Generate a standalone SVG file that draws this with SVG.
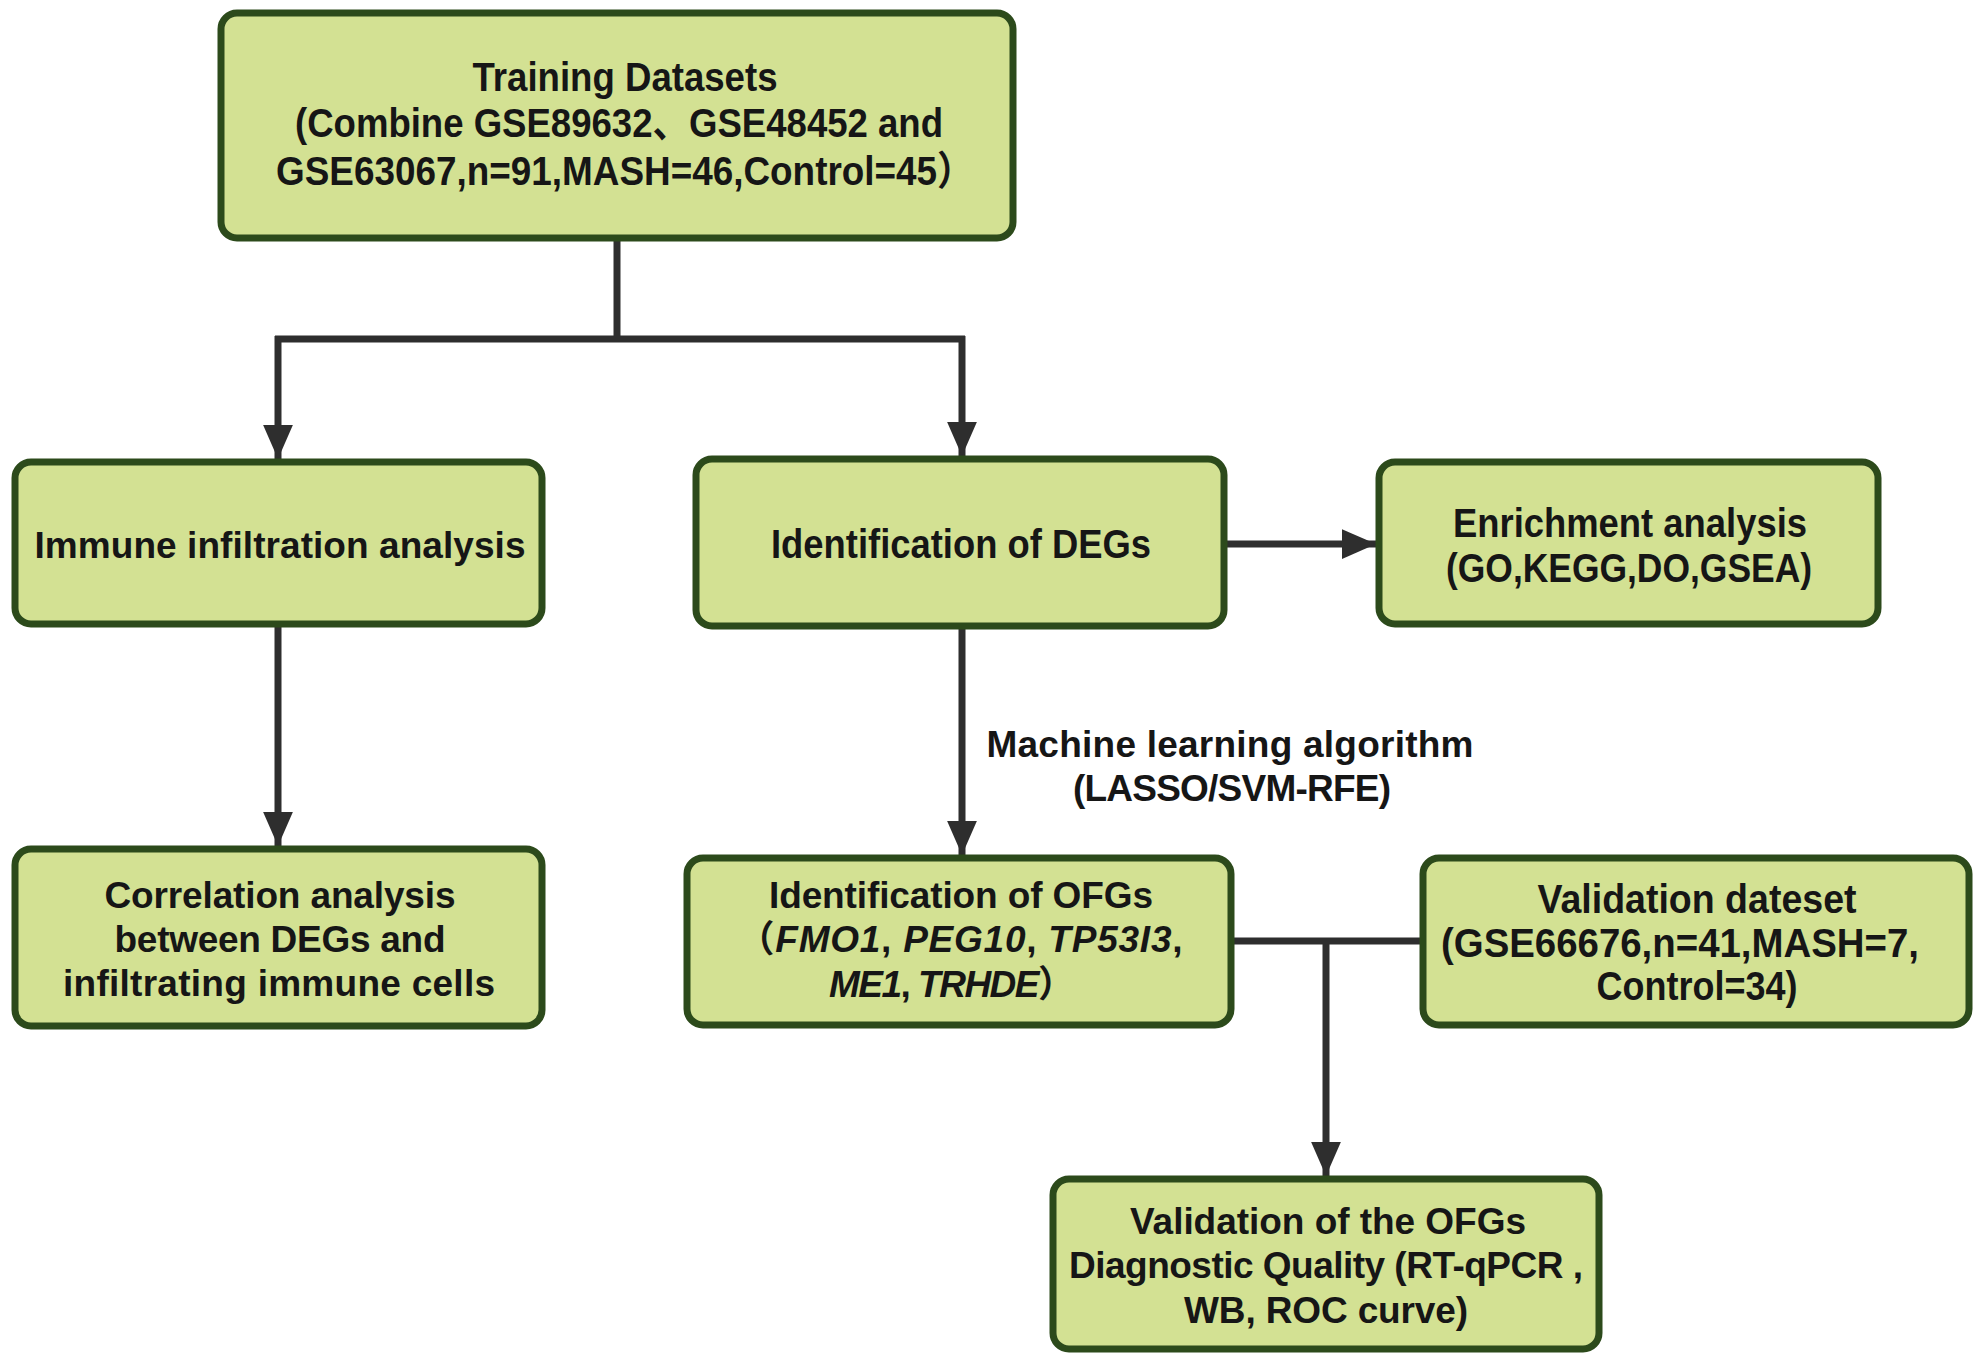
<svg xmlns="http://www.w3.org/2000/svg" width="1984" height="1366" viewBox="0 0 1984 1366">
<style>
.box{fill:#d3e193;stroke:#2c4a1b;stroke-width:7}
.t{font-family:"Liberation Sans","Noto Sans CJK SC",sans-serif;font-weight:bold;fill:#161616;text-anchor:middle}
.n{font-size:40px}
.w{font-size:37px}
.ln{stroke:#2e2e2e;stroke-width:7;fill:none}
</style>
<defs>
<marker id="ah" markerUnits="userSpaceOnUse" markerWidth="34" markerHeight="34" viewBox="0 0 32 28" refX="32" refY="14" orient="auto">
<path d="M0,0 L32,14 L0,28 Z" fill="#2e2e2e"/>
</marker>
</defs>
<rect width="1984" height="1366" fill="#ffffff"/>
<g id="connectors">
<polyline class="ln" points="617,238 617,339"/>
<polyline class="ln" points="275,339 965,339"/>
<line class="ln" x1="278" y1="336" x2="278" y2="459" marker-end="url(#ah)"/>
<line class="ln" x1="962" y1="336" x2="962" y2="456" marker-end="url(#ah)"/>
<line class="ln" x1="278" y1="624" x2="278" y2="846" marker-end="url(#ah)"/>
<line class="ln" x1="1224" y1="544" x2="1376" y2="544" marker-end="url(#ah)"/>
<line class="ln" x1="962" y1="626" x2="962" y2="855" marker-end="url(#ah)"/>
<line class="ln" x1="1231" y1="941" x2="1423" y2="941"/>
<line class="ln" x1="1326" y1="938" x2="1326" y2="1176" marker-end="url(#ah)"/>
<text class="t w" x="1230" y="757" textLength="487" lengthAdjust="spacing">Machine learning algorithm</text>
<text class="t w" x="1232" y="801" textLength="318" lengthAdjust="spacing">(LASSO/SVM-RFE)</text>
</g>
<g id="training">
<rect class="box" x="221" y="13" width="792" height="225" rx="16"/>
<text class="t n" x="625" y="91" textLength="305" lengthAdjust="spacingAndGlyphs">Training Datasets</text>
<text class="t n" x="619" y="137" textLength="648" lengthAdjust="spacingAndGlyphs">(Combine GSE89632、GSE48452 and</text>
<text class="t n" x="625" y="185" textLength="698" lengthAdjust="spacingAndGlyphs">GSE63067,n=91,MASH=46,Control=45）</text>
</g>
<g id="immune">
<rect class="box" x="15" y="462" width="527" height="162" rx="16"/>
<text class="t w" x="280" y="558" textLength="491" lengthAdjust="spacing">Immune infiltration analysis</text>
</g>
<g id="degs">
<rect class="box" x="696" y="459" width="528" height="167" rx="16"/>
<text class="t n" x="961" y="558" textLength="380" lengthAdjust="spacingAndGlyphs">Identification of DEGs</text>
</g>
<g id="enrichment">
<rect class="box" x="1379" y="462" width="499" height="162" rx="16"/>
<text class="t n" x="1630" y="537" textLength="354" lengthAdjust="spacingAndGlyphs">Enrichment analysis</text>
<text class="t n" x="1629" y="582" textLength="366" lengthAdjust="spacingAndGlyphs">(GO,KEGG,DO,GSEA)</text>
</g>
<g id="correlation">
<rect class="box" x="15" y="849" width="527" height="177" rx="16"/>
<text class="t w" x="280" y="908" textLength="351" lengthAdjust="spacing">Correlation analysis</text>
<text class="t w" x="280" y="952" textLength="331" lengthAdjust="spacing">between DEGs and</text>
<text class="t w" x="279" y="996" textLength="432" lengthAdjust="spacing">infiltrating immune cells</text>
</g>
<g id="ofgs">
<rect class="box" x="687" y="858" width="544" height="167" rx="16"/>
<text class="t w" x="961" y="908" textLength="384" lengthAdjust="spacing">Identification of OFGs</text>
<text class="t w" x="960" y="952" textLength="445" lengthAdjust="spacing">（<tspan font-style="italic">FMO1</tspan>, <tspan font-style="italic">PEG10</tspan>, <tspan font-style="italic">TP53I3</tspan>,</text>
<text class="t w" x="952" y="997" textLength="246" lengthAdjust="spacing"><tspan font-style="italic">ME1</tspan>, <tspan font-style="italic">TRHDE</tspan>）</text>
</g>
<g id="validation-dataset">
<rect class="box" x="1423" y="858" width="546" height="167" rx="16"/>
<text class="t n" x="1697" y="913" textLength="319" lengthAdjust="spacingAndGlyphs">Validation dateset</text>
<text class="t n" x="1680" y="957" textLength="478" lengthAdjust="spacingAndGlyphs">(GSE66676,n=41,MASH=7,</text>
<text class="t n" x="1697" y="1000" textLength="201" lengthAdjust="spacingAndGlyphs">Control=34)</text>
</g>
<g id="validation-ofgs">
<rect class="box" x="1053" y="1179" width="546" height="170" rx="16"/>
<text class="t w" x="1328" y="1234" textLength="396" lengthAdjust="spacing">Validation of the OFGs</text>
<text class="t w" x="1326" y="1278" textLength="514" lengthAdjust="spacing">Diagnostic Quality (RT-qPCR ,</text>
<text class="t w" x="1326" y="1323" textLength="284" lengthAdjust="spacing">WB, ROC curve)</text>
</g>
</svg>
